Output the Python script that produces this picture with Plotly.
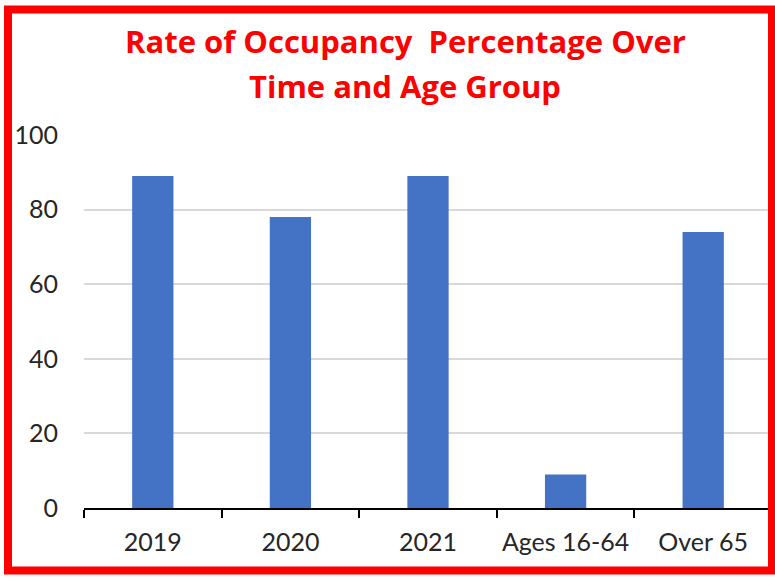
import plotly.graph_objects as go

categories = ["2019", "2020", "2021", "Ages 16-64", "Over 65"]
values = [89, 78, 89, 9, 74]
y_ticks = [0, 20, 40, 60, 80, 100]
title_lines = ["Rate of Occupancy  Percentage Over", "Time and Age Group"]

W, H = 775, 581
ML, MR, MT, MB = 84, 3, 135, 73
pw = W - ML - MR
ph = H - MT - MB

def px_x(p):
    return (p - ML) / pw

def px_y(p):
    return (H - MB - p) / ph

fig = go.Figure(go.Bar(
    x=categories, y=values,
    marker=dict(color="#4472C4", line=dict(width=0)),
))

fig.update_layout(
    width=W, height=H,
    margin=dict(l=ML, r=MR, t=MT, b=MB, autoexpand=False),
    paper_bgcolor="white", plot_bgcolor="white",
    bargap=0.7,
    showlegend=False,
    font=dict(family="Lato, sans-serif", color="#262626"),
)

for line, cy in zip(title_lines, [41, 86]):
    fig.add_annotation(
        text="<b>" + line.replace("  ", " &nbsp;") + "</b>",
        xref="paper", yref="paper",
        x=px_x(405), y=px_y(cy), xanchor="center", yanchor="middle",
        showarrow=False,
        font=dict(family="Open Sans, sans-serif", size=31, color="#FF0000"),
    )

fig.update_xaxes(
    type="category",
    showline=True, linecolor="black", linewidth=2,
    ticks="outside", tickson="boundaries", ticklen=8, tickwidth=2, tickcolor="black",
    tickfont=dict(size=25, color="#262626"),
    tickangle=0, automargin=False,
    ticklabelstandoff=11,
    showgrid=False,
)

fig.update_yaxes(
    range=[0, 100], tickvals=y_ticks,
    showgrid=True, gridcolor="#D9D9D9", gridwidth=2,
    zeroline=False, showline=False,
    tickfont=dict(size=25, color="#262626"),
    automargin=False,
    ticks="", ticklabelstandoff=25,
)

fig.add_shape(
    type="rect", xref="paper", yref="paper",
    x0=px_x(8), x1=px_x(772), y0=px_y(570.5), y1=px_y(9.5),
    line=dict(color="#FF0000", width=8), fillcolor="rgba(0,0,0,0)",
    layer="above",
)

fig.write_html("out.html", config={"displayModeBar": False},
               post_script="document.body.style.margin='0px';")
